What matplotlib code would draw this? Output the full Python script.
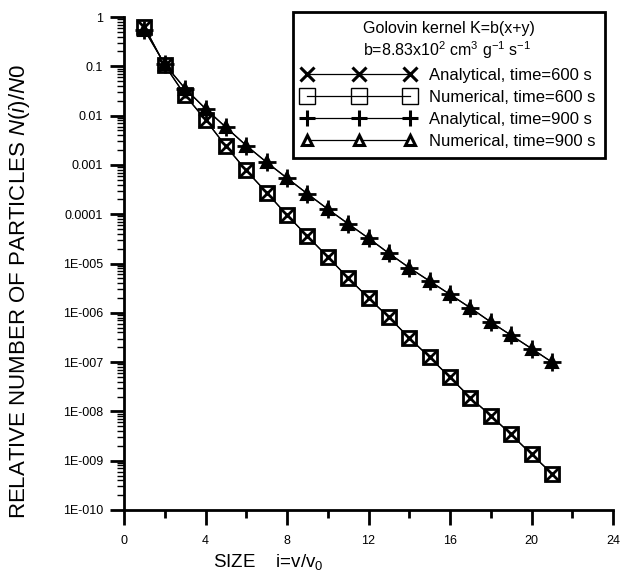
"""
Particle size distribution for the Golovin kernel: analytical vs numerical
solution of the coagulation equation at two times, on a log scale.
"""
import matplotlib
matplotlib.use('Agg')  # no display available
import matplotlib.pyplot as plt
from matplotlib.lines import Line2D
from matplotlib.ticker import FixedLocator, FixedFormatter, LogLocator, MultipleLocator, NullFormatter

plt.rcParams['font.family'] = ['Liberation Sans', 'DejaVu Sans']
plt.rcParams['mathtext.fontset'] = 'custom'
plt.rcParams['mathtext.rm'] = 'Liberation Sans'
plt.rcParams['mathtext.it'] = 'Liberation Sans:italic'

# particle size classes i = v/v0
size = list(range(1, 22))

# relative number of particles N(i)/N0, t = 600 s
ana_600 = [0.634, 0.105, 0.0258, 0.0082, 0.0024, 7.7e-4, 2.75e-4, 9.6e-5,
           3.6e-5, 1.36e-5, 5.1e-6, 2.0e-6, 8.1e-7, 3.1e-7, 1.25e-7,
           4.9e-8, 1.9e-8, 8.2e-9, 3.4e-9, 1.35e-9, 5.5e-10]
num_600 = [0.634, 0.105, 0.0258, 0.0082, 0.0024, 7.7e-4, 2.75e-4, 9.6e-5,
           3.6e-5, 1.36e-5, 5.1e-6, 2.0e-6, 8.1e-7, 3.1e-7, 1.25e-7,
           4.9e-8, 1.9e-8, 8.2e-9, 3.4e-9, 1.35e-9, 5.5e-10]

# relative number of particles N(i)/N0, t = 900 s
ana_900 = [0.55, 0.11, 0.0353, 0.0138, 0.0058, 0.00247, 0.00113, 5.4e-4,
           2.6e-4, 1.27e-4, 6.4e-5, 3.26e-5, 1.61e-5, 8.2e-6, 4.4e-6,
           2.36e-6, 1.26e-6, 6.5e-7, 3.5e-7, 1.88e-7, 1.0e-7]
num_900 = [0.55, 0.11, 0.0353, 0.0138, 0.0058, 0.00247, 0.00113, 5.4e-4,
           2.6e-4, 1.27e-4, 6.4e-5, 3.26e-5, 1.61e-5, 8.2e-6, 4.4e-6,
           2.36e-6, 1.26e-6, 6.5e-7, 3.5e-7, 1.88e-7, 1.0e-7]

labels = ['Analytical, time=600 s', 'Numerical, time=600 s',
          'Analytical, time=900 s', 'Numerical, time=900 s']

yticks = [1, 0.1, 0.01, 0.001, 0.0001, 1e-5, 1e-6, 1e-7, 1e-8, 1e-9, 1e-10]
yticklabels = ['1', '0.1', '0.01', '0.001', '0.0001', '1E-005', '1E-006',
               '1E-007', '1E-008', '1E-009', '1E-010']
xticks = [0, 4, 8, 12, 16, 20, 24]

W, H = 627, 572
fig = plt.figure(figsize=(W / 100, H / 100), dpi=100)
fig.patch.set_facecolor('white')
left, right, top, bottom = 124, 613, 17, 510
ax = fig.add_axes([left / W, 1 - bottom / H, (right - left) / W, (bottom - top) / H])

# connecting lines
ax.plot(size, ana_600, color='black', lw=0.9, zorder=2)
ax.plot(size, num_600, color='black', lw=0.9, zorder=2)
ax.plot(size, ana_900, color='black', lw=0.9, zorder=2)
ax.plot(size, num_900, color='black', lw=0.9, zorder=2)

# markers
ax.plot(size, num_600, ls='none', marker='s', ms=10.5, mfc='white', mec='black', mew=2.0, zorder=3)
ax.plot(size, ana_600, ls='none', marker='x', ms=9.5, mec='black', mew=2.0, zorder=4)
ax.plot(size, num_900, ls='none', marker='^', ms=8, mfc='black', mec='black', mew=1.5, zorder=3)
ax.plot(size, ana_900, ls='none', marker='+', ms=13, mec='black', mew=2.0, zorder=4)

ax.set_yscale('log')
ax.set_ylim(1e-10, 1)
ax.set_xlim(0, 24)

ax.yaxis.set_major_locator(FixedLocator(yticks))
ax.yaxis.set_major_formatter(FixedFormatter(yticklabels))
ax.yaxis.set_minor_locator(LogLocator(base=10, subs=range(2, 10), numticks=40))
ax.yaxis.set_minor_formatter(NullFormatter())
ax.xaxis.set_major_locator(FixedLocator(xticks))
ax.xaxis.set_minor_locator(MultipleLocator(2))

for side in ['top', 'right']:
    ax.spines[side].set_visible(False)
for side in ['left', 'bottom']:
    ax.spines[side].set_linewidth(2)

ax.tick_params(axis='y', which='major', direction='out', length=10, width=2, labelsize=9, pad=5)
ax.tick_params(axis='y', which='minor', direction='out', length=5, width=1)
ax.tick_params(axis='x', which='major', direction='out', length=11, width=2, labelsize=9, pad=7)
ax.tick_params(axis='x', which='minor', direction='out', length=6, width=2)

fig.text(20 / W, 1 - 292 / H, 'RELATIVE NUMBER OF PARTICLES $\\mathit{N(i)/N0}$',
         fontsize=16, rotation=90, ha='center', va='center')
fig.text(268 / W, 1 - 562 / H, 'SIZE    i=v/v$_0$', fontsize=13.5, ha='center', va='center')

# legend uses its own (thinner) marker styling
handles = [
    Line2D([], [], color='black', lw=0.9, marker='x', ms=10, mew=2.2),
    Line2D([], [], color='black', lw=0.9, marker='s', ms=11, mfc='none', mec='black', mew=1.0),
    Line2D([], [], color='black', lw=0.9, marker='+', ms=11, mew=2.2),
    Line2D([], [], color='black', lw=0.9, marker='^', ms=7.5, mfc='white', mec='black', mew=2.2),
]
title = 'Golovin kernel K=b(x+y)\nb=8.83x10$^{2}$ cm$^{3}$ g$^{-1}$ s$^{-1}$'
leg = ax.legend(handles, labels, title=title, loc='upper right',
                bbox_to_anchor=(605 / W, 1 - 12 / H), bbox_transform=fig.transFigure,
                numpoints=3, handlelength=6.8, handletextpad=0.85, fontsize=12,
                title_fontsize=11.5, fancybox=False, edgecolor='black', framealpha=1,
                borderpad=0.55, labelspacing=0.42, borderaxespad=0)
leg.get_frame().set_linewidth(2)

fig.savefig('out.png', dpi=100, facecolor='white')
